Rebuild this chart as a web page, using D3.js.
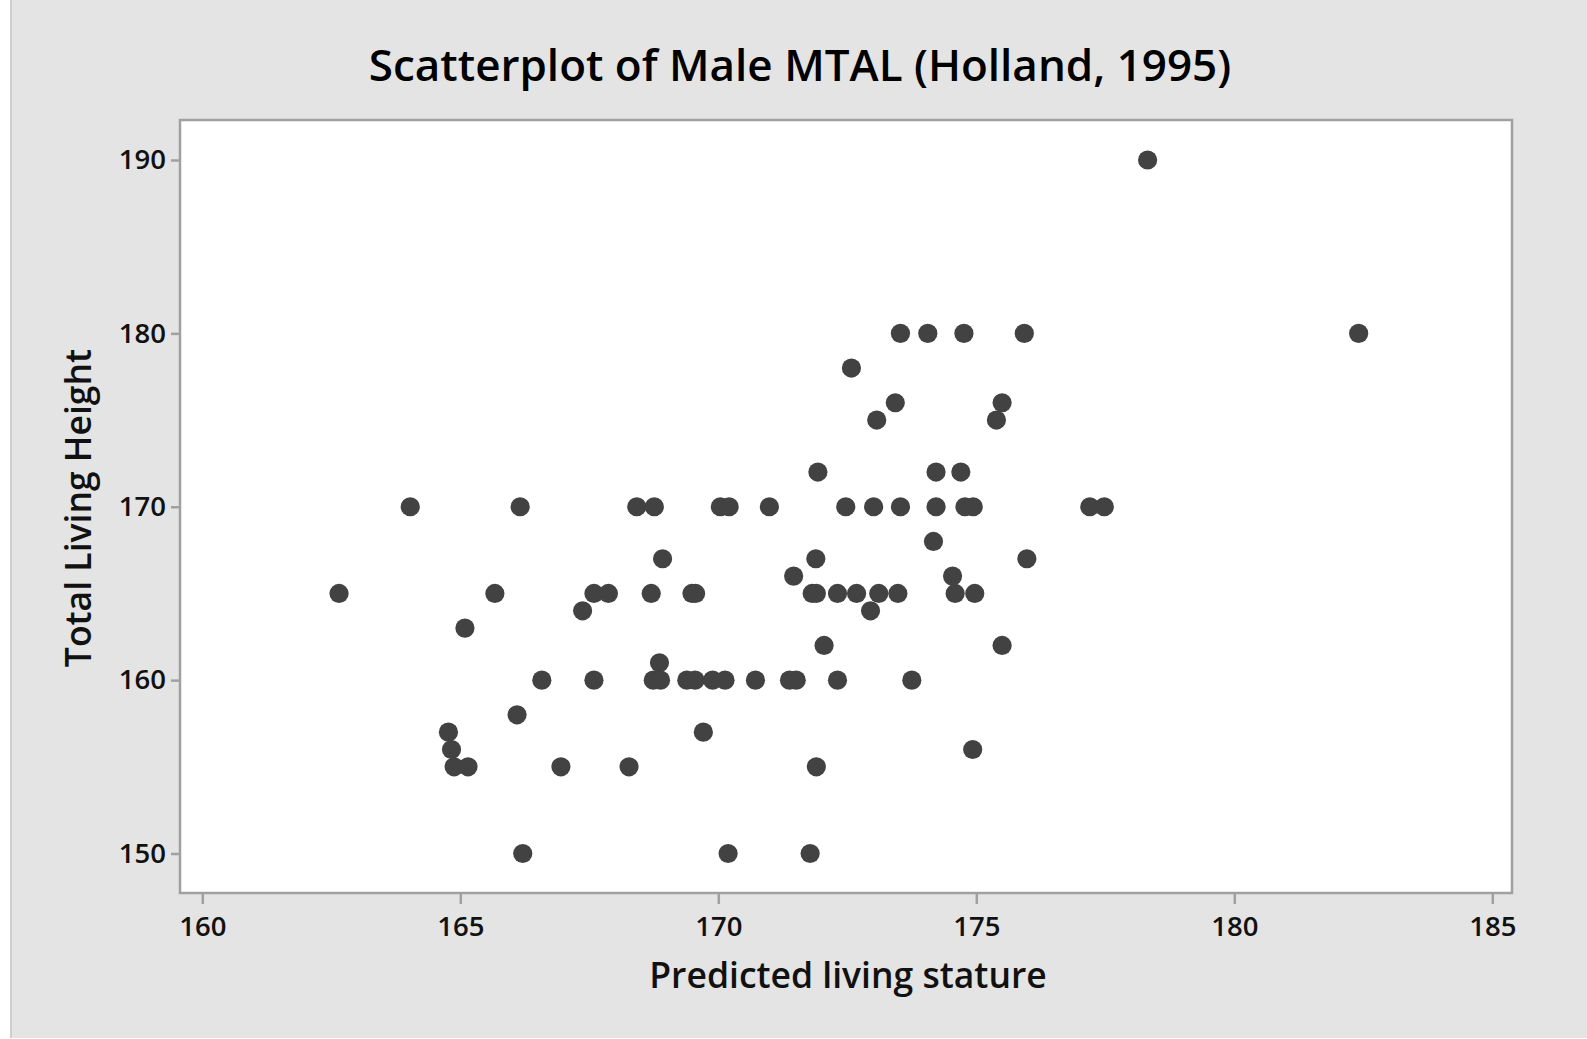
<!DOCTYPE html>
<html>
<head>
<meta charset="utf-8">
<script src="https://cdn.jsdelivr.net/npm/d3@7"></script>
<style>
  html, body { margin: 0; padding: 0; background: #ffffff; }
  #chart { width: 1587px; height: 1039px; }
  .ticktext { font-family: "Open Sans", sans-serif; font-size: 27.5px; font-weight: 600; fill: #111; }
  .axistitle { font-family: "Open Sans", sans-serif; font-size: 35.5px; font-weight: 600; fill: #111; }
  .charttitle { font-family: "Open Sans", sans-serif; font-size: 44px; font-weight: 600; fill: #000; }
</style>
</head>
<body>
<div id="chart"></div>
<script>

// predicted living stature (x) and total living height (y), one pair per skeleton
let predicted = [
  162.65, 164.03, 164.77, 164.83, 164.88, 165.15, 165.09, 165.67, 166.10, 166.16,
  166.21, 166.58, 166.95, 167.37, 167.59, 167.87, 167.59, 168.27, 168.42, 168.76,
  168.70, 168.92, 168.86, 168.74, 168.88, 169.49, 169.56, 169.39, 169.55, 169.71,
  169.89, 170.13, 170.04, 170.21, 170.19, 170.72, 170.99, 171.46, 171.38, 171.51,
  171.78, 171.82, 171.90, 171.89, 171.93, 171.90, 172.05, 172.31, 172.31, 172.47,
  172.58, 172.68, 172.95, 173.01, 173.07, 173.11, 173.43, 173.48, 173.53, 173.53,
  173.75, 174.06, 174.17, 174.22, 174.22, 174.54, 174.59, 174.70, 174.76, 174.78,
  174.94, 174.93, 174.97, 175.39, 175.50, 175.50, 175.93, 175.98, 177.20, 177.48,
  178.32, 182.41
];
let living = [
  165, 170, 157, 156, 155, 155, 163, 165, 158, 170,
  150, 160, 155, 164, 165, 165, 160, 155, 170, 170,
  165, 167, 161, 160, 160, 165, 165, 160, 160, 157,
  160, 160, 170, 170, 150, 160, 170, 166, 160, 160,
  150, 165, 165, 167, 172, 155, 162, 165, 160, 170,
  178, 165, 164, 170, 175, 165, 176, 165, 180, 170,
  160, 180, 168, 172, 170, 166, 165, 172, 180, 170,
  170, 156, 165, 175, 176, 162, 180, 167, 170, 170,
  190, 180
];

let xTicks = [160, 165, 170, 175, 180, 185];
let yTicks = [150, 160, 170, 180, 190];

let titleText = "Scatterplot of Male MTAL (Holland, 1995)";
let xTitle = "Predicted living stature";
let yTitle = "Total Living Height";

/** Class drawing the scatterplot. */
class ScatterChart {

  constructor() {
    this.width = 1587;
    this.height = 1039;
    // plot frame, in page pixels
    this.frame = {left: 180, top: 120, right: 1512, bottom: 893};

    this.svg = d3.select("#chart").append("svg")
      .attr("width", this.width)
      .attr("height", this.height);
  }

  update(xs, ys) {
    let f = this.frame;
    let points = xs.map((x, i) => ({x: x, y: ys[i]}));

    let xScale = d3.scaleLinear().domain([160, 185]).range([202.3, 1492.3]);
    let yScale = d3.scaleLinear().domain([150, 190]).range([853.5, 160]);

    // page background
    this.svg.append("rect")
      .attr("x", 10).attr("y", 0)
      .attr("width", this.width - 10).attr("height", this.height - 1)
      .style("fill", "#e4e4e4");
    this.svg.append("rect")
      .attr("x", 10).attr("y", 0)
      .attr("width", 2).attr("height", this.height - 1)
      .style("fill", "#cfcfcf");

    // plot area
    this.svg.append("rect")
      .attr("x", f.left).attr("y", f.top)
      .attr("width", f.right - f.left).attr("height", f.bottom - f.top)
      .style("fill", "#ffffff");

    let xAxis = d3.axisBottom(xScale).tickValues(xTicks).tickSize(11).tickPadding(6);
    let yAxis = d3.axisLeft(yScale).tickValues(yTicks).tickSize(9).tickPadding(5);

    let gx = this.svg.append("g")
      .attr("transform", "translate(0," + f.bottom + ")")
      .call(xAxis);
    let gy = this.svg.append("g")
      .attr("transform", "translate(" + f.left + ",0)")
      .call(yAxis);

    [gx, gy].forEach(g => {
      g.select(".domain").remove();
      g.selectAll(".tick line").attr("stroke", "#a0a0a0").attr("stroke-width", 2.5);
      g.selectAll(".tick text").attr("class", "ticktext").attr("fill", null);
    });
    gx.selectAll(".tick text").attr("dy", "0.93em");

    // frame on top of the tick stubs
    this.svg.append("rect")
      .attr("x", f.left).attr("y", f.top)
      .attr("width", f.right - f.left).attr("height", f.bottom - f.top)
      .style("fill", "none")
      .style("stroke", "#a0a0a0")
      .style("stroke-width", 2.5);

    this.svg.selectAll("circle.pt")
      .data(points)
      .enter()
      .append("circle")
      .attr("class", "pt")
      .attr("cx", d => xScale(d.x))
      .attr("cy", d => yScale(d.y))
      .attr("r", 9.6)
      .style("fill", "#424242");

    //--------------------------------------------------
    // titles
    //--------------------------------------------------
    this.svg.append("text")
      .attr("class", "charttitle")
      .attr("x", 800).attr("y", 81)
      .attr("text-anchor", "middle")
      .text(titleText);

    this.svg.append("text")
      .attr("class", "axistitle")
      .attr("x", 848).attr("y", 988)
      .attr("text-anchor", "middle")
      .text(xTitle);

    this.svg.append("text")
      .attr("class", "axistitle")
      .attr("transform", "translate(91,508) rotate(-90)")
      .attr("text-anchor", "middle")
      .text(yTitle);
  }
}

let chart = new ScatterChart();
chart.update(predicted, living);

</script>
</body>
</html>
